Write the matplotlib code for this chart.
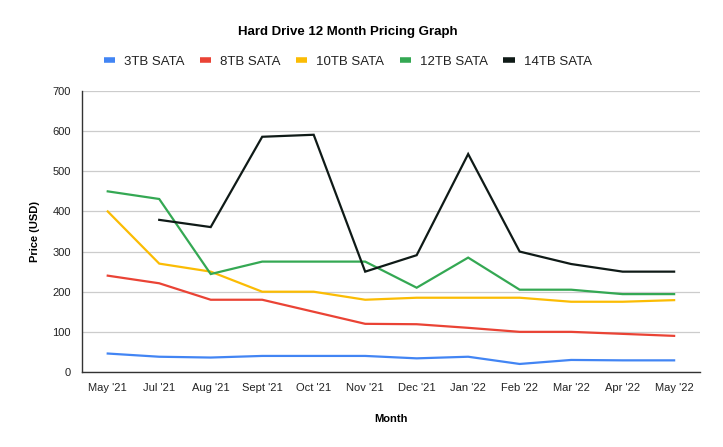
import numpy as np
import matplotlib.pyplot as plt

months = ["May '21", "Jul '21", "Aug '21", "Sept '21", "Oct '21", "Nov '21",
          "Dec '21", "Jan '22", "Feb '22", "Mar '22", "Apr '22", "May '22"]

tb3 = [46, 38, 36, 40, 40, 40, 34, 38, 20, 30, 29, 29]
tb8 = [240, 221, 180, 180, 150, 120, 119, 110, 100, 100, 95, 90]
tb10 = [400, 270, 250, 200, 200, 180, 185, 185, 185, 175, 175, 179]
tb12 = [450, 431, 244, 275, 275, 275, 210, 285, 205, 205, 194, 194]
tb14 = [np.nan, 379, 361, 586, 591, 250, 291, 543, 300, 269, 250, 250]

series = [("3TB SATA", tb3, "#4285F4"),
          ("8TB SATA", tb8, "#EA4335"),
          ("10TB SATA", tb10, "#FBBC04"),
          ("12TB SATA", tb12, "#34A853"),
          ("14TB SATA", tb14, "#0F1A17")]

plt.rcParams['font.family'] = ['Liberation Sans', 'DejaVu Sans']

fig = plt.figure(figsize=(7.23, 4.47), dpi=100)
ax = fig.add_axes([0.1134, 0.1678, 0.8546, 0.6286])

x = np.arange(len(months))
for name, vals, col in series:
    ax.plot(x, vals, color=col, lw=1.6, label=name, solid_joinstyle='miter')

ax.set_xlim(-0.5, len(months) - 0.5)
ax.set_ylim(0, 700)
ax.set_yticks(range(0, 701, 100))
ax.set_xticks(x)
ax.set_xticklabels(months)
ax.tick_params(length=0, labelsize=8, colors='#222222', pad=8)
ax.grid(axis='y', color='#cccccc', lw=0.9)
ax.set_axisbelow(True)
for s in ['top', 'right']:
    ax.spines[s].set_visible(False)
for s in ['left', 'bottom']:
    ax.spines[s].set_color('#333333')
    ax.spines[s].set_linewidth(1.0)

ax.set_xlabel("Month", fontsize=8, fontweight='bold', labelpad=15)
ax.set_ylabel("Price (USD)", fontsize=8, fontweight='bold', labelpad=9)

fig.text(0.481, 0.929, "Hard Drive 12 Month Pricing Graph", ha='center', va='center',
         fontsize=9.5, fontweight='bold')

handles, labels = ax.get_legend_handles_labels()
leg = fig.legend(handles, labels, loc='center', bbox_to_anchor=(0.481, 0.862), ncol=5,
                 frameon=False, fontsize=9.5, handlelength=0.85, handletextpad=0.7,
                 columnspacing=1.15)
for h in leg.get_lines():
    h.set_linewidth(4)
    h.set_solid_capstyle('butt')
for t in leg.get_texts():
    t.set_color('#222222')

fig.savefig("out.png", dpi=100)
